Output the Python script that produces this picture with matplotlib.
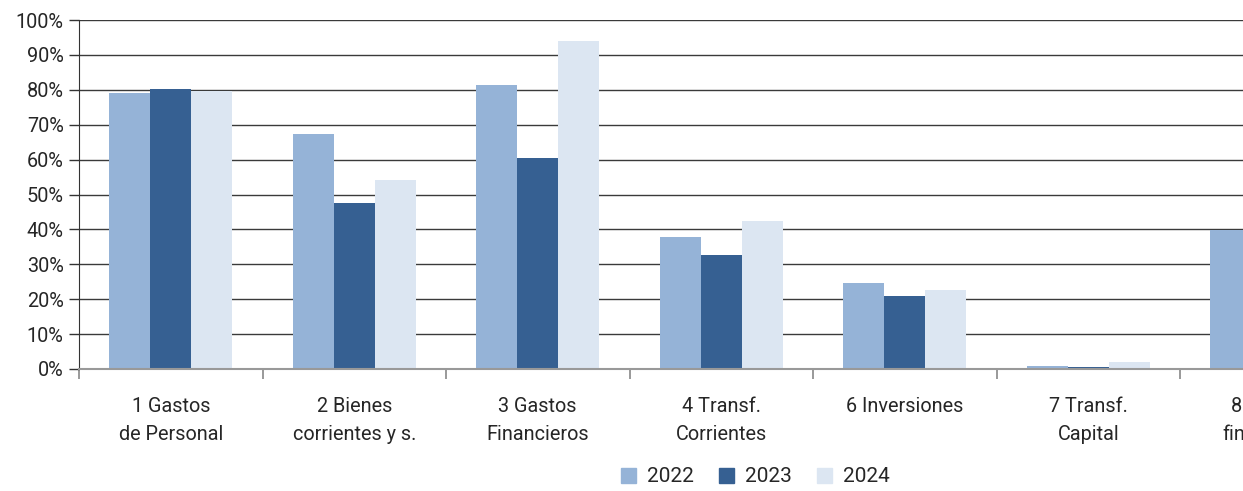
import numpy as np
import matplotlib.pyplot as plt
from matplotlib.patches import Patch

categories = ["1 Gastos\nde Personal", "2 Bienes\ncorrientes y s.", "3 Gastos\nFinancieros",
              "4 Transf.\nCorrientes", "6 Inversiones", "7 Transf.\nCapital", "8 Activos\nfinancieros"]
years = ["2022", "2023", "2024"]
v2022 = [79.2, 67.3, 81.4, 37.8, 24.6, 0.9, 39.8]
v2023 = [80.2, 47.6, 60.5, 32.7, 20.9, 0.5, np.nan]   # last group cut off in the source
v2024 = [79.7, 54.2, 94.0, 42.4, 22.6, 2.0, np.nan]
colors = ["#95b3d7", "#366092", "#dce6f2"]

plt.rcParams['font.family'] = ['Roboto', 'DejaVu Sans']

fig = plt.figure(figsize=(12.43, 4.91), dpi=100)
# axes run past the right edge of the figure, like the cropped original
ax = fig.add_axes([79/1243, 122/491, 7*183.5/1243, 349/491])

x = np.arange(len(categories))
w = 0.223
for i, (vals, c) in enumerate(zip([v2022, v2023, v2024], colors)):
    ax.bar(x + (i - 1)*w, vals, w, color=c, zorder=3)

ax.set_xlim(-0.5, len(categories) - 0.5)
ax.set_ylim(0, 100)
ax.set_yticks(np.arange(0, 101, 10))
ax.set_yticklabels([f"{t}%" for t in range(0, 101, 10)])
ax.yaxis.grid(True, color="#3a3a3a", lw=1, zorder=0)

ax.set_xticks(x)
ax.set_xticklabels(categories, linespacing=1.6)
ax.set_xticks(np.arange(-0.5, len(categories), 1), minor=True)
ax.tick_params(axis='x', which='major', length=0, pad=20)
ax.tick_params(axis='x', which='minor', length=7, color="#888888", width=1.2)
ax.tick_params(axis='y', length=7, color="#333333", width=1, pad=4)
ax.tick_params(labelsize=14.3, labelcolor="#262626")

for s in ["top", "right"]:
    ax.spines[s].set_visible(False)
ax.spines["left"].set_color("#333333")
ax.spines["bottom"].set_color("#999999")
ax.spines["bottom"].set_linewidth(1.5)
ax.spines["bottom"].set_zorder(4)

handles = [Patch(color=c, label=y) for c, y in zip(colors, years)]
fig.legend(handles=handles, loc='center', bbox_to_anchor=(755/1243, 1 - 477/491), ncol=3,
           frameon=False, fontsize=15, handlelength=0.75, handleheight=0.75,
           columnspacing=1.2, handletextpad=0.5, labelcolor="#262626")

fig.savefig("out.png", dpi=100)
